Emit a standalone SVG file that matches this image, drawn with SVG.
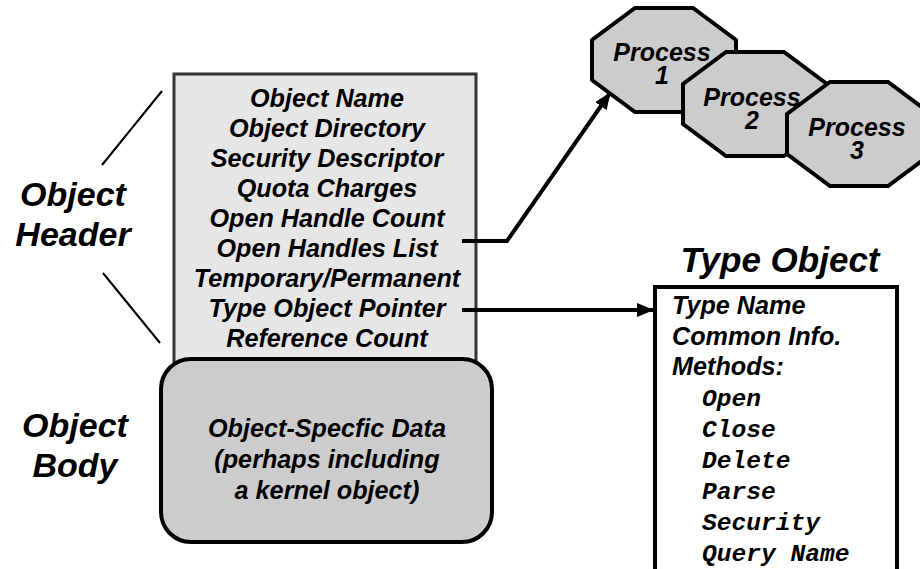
<svg xmlns="http://www.w3.org/2000/svg" width="920" height="569" viewBox="0 0 920 569">
<style>
.t{font-family:"Liberation Sans",Arial,sans-serif;font-weight:bold;font-style:italic;fill:#000}
.h{font-size:25.2px;text-anchor:middle}
.p{font-size:25px;text-anchor:middle}
.big{font-size:34px;text-anchor:middle}
.ty{font-size:25.2px}
.m{font-family:"Liberation Mono","Courier New",monospace;font-weight:bold;font-style:italic;font-size:24.6px;fill:#000}
.oct{fill:#cccccc;stroke:#000;stroke-width:4;stroke-linejoin:miter}
.conn{fill:none;stroke:#000;stroke-width:4}
.thin{fill:none;stroke:#000;stroke-width:2}
</style>
<defs>
<marker id="arr" markerUnits="userSpaceOnUse" markerWidth="18" markerHeight="14" refX="16" refY="7" orient="auto">
<path d="M0,0 L17,7 L0,14 z" fill="#000"/>
</marker>
<polygon id="octShape" points="43,0 101,0 144,32 144,72 101,104 43,104 0,72 0,32"/>
</defs>
<rect width="920" height="569" fill="#fff"/>

<g id="labels">
<text class="t big" x="73" y="206">Object</text>
<text class="t big" x="73" y="246">Header</text>
<text class="t big" x="75" y="437">Object</text>
<text class="t big" x="75" y="477">Body</text>
<line class="thin" x1="162" y1="91" x2="102" y2="165"/>
<line class="thin" x1="103" y1="273" x2="160" y2="343"/>
</g>

<g id="header">
<rect x="174" y="74" width="302" height="300" fill="#e6e6e6" stroke="#333" stroke-width="3"/>
<text class="t h" x="327" y="107">Object Name</text>
<text class="t h" x="327" y="137">Object Directory</text>
<text class="t h" x="327" y="167">Security Descriptor</text>
<text class="t h" x="327" y="197">Quota Charges</text>
<text class="t h" x="327" y="227">Open Handle Count</text>
<text class="t h" x="327" y="257">Open Handles List</text>
<text class="t h" x="327" y="287">Temporary/Permanent</text>
<text class="t h" x="327" y="317">Type Object Pointer</text>
<text class="t h" x="327" y="347">Reference Count</text>
</g>

<g id="body">
<rect x="161" y="359" width="331" height="183" rx="30" ry="30" fill="#cccccc" stroke="#000" stroke-width="4"/>
<text class="t h" x="327" y="437">Object-Specfic Data</text>
<text class="t h" x="327" y="468">(perhaps including</text>
<text class="t h" x="327" y="499">a kernel object)</text>
</g>

<g id="process1">
<use href="#octShape" x="592" y="8" class="oct"/>
<text class="t p" x="662" y="61">Process</text>
<text class="t p" x="662" y="84">1</text>
</g>
<g id="process2">
<use href="#octShape" x="683" y="52" class="oct"/>
<text class="t p" x="752" y="106">Process</text>
<text class="t p" x="752" y="129">2</text>
</g>
<g id="process3">
<use href="#octShape" x="787" y="82" class="oct"/>
<text class="t p" x="857" y="136">Process</text>
<text class="t p" x="857" y="159">3</text>
</g>

<g id="typeobject">
<text class="t" x="780" y="272" font-size="35" text-anchor="middle">Type Object</text>
<rect x="655" y="287" width="242" height="300" fill="#fff" stroke="#000" stroke-width="4"/>
<text class="t ty" x="672" y="314">Type Name</text>
<text class="t ty" x="672" y="345">Common Info.</text>
<text class="t ty" x="672" y="375">Methods:</text>
<text class="m" x="702" y="406">Open</text>
<text class="m" x="702" y="437">Close</text>
<text class="m" x="702" y="468">Delete</text>
<text class="m" x="702" y="499">Parse</text>
<text class="m" x="702" y="530">Security</text>
<text class="m" x="702" y="561">Query Name</text>
</g>

<g id="connectors">
<polyline class="conn" points="462,241 507,241 610,93" marker-end="url(#arr)"/>
<line class="conn" x1="462" y1="310" x2="653" y2="310" marker-end="url(#arr)"/>
</g>
</svg>
